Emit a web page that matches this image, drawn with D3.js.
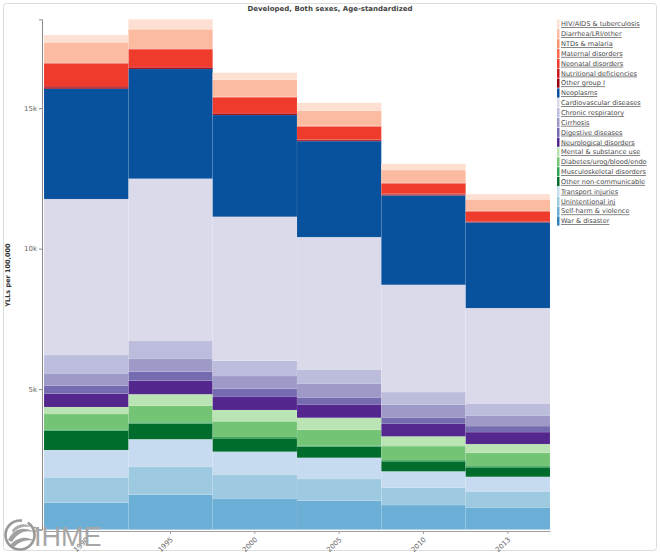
<!DOCTYPE html>
<html>
<head>
<meta charset="utf-8">
<script src="https://cdn.jsdelivr.net/npm/d3@7"></script>
<style>
  body { margin: 0; background: #fff; }
  svg { display: block; font-family: "DejaVu Sans", Verdana, sans-serif; }
</style>
</head>
<body>
<svg id="chart" width="660" height="555"></svg>
<script>
// ---------- DATA ----------
const years = ["1990", "1995", "2000", "2005", "2010", "2013"];
const yTicks = [0, 5000, 10000, 15000];
const yTickLabels = ["0", "5k", "10k", "15k"];

// causes, listed top of legend to bottom (stack order is reversed)
const causeNames = [
  "HIV/AIDS & tuberculosis", "Diarrhea/LRI/other", "NTDs & malaria", "Maternal disorders",
  "Neonatal disorders", "Nutritional deficiencies", "Other group I", "Neoplasms",
  "Cardiovascular diseases", "Chronic respiratory", "Cirrhosis", "Digestive diseases",
  "Neurological disorders", "Mental & substance use", "Diabetes/urog/blood/endo",
  "Musculoskeletal disorders", "Other non-communicable", "Transport injuries",
  "Unintentional inj", "Self-harm & violence", "War & disaster"
];

const hivTb          = [260, 356, 253, 285, 224, 189];
const diarrheaLri    = [712, 676, 595, 534, 452, 406];
const ntdsMalaria    = [10, 10, 8, 8, 7, 6];
const maternal       = [25, 22, 18, 15, 12, 11];
const neonatal       = [809, 634, 561, 461, 373, 350];
const nutritional    = [40, 30, 30, 25, 24, 20];
const otherGroup1    = [56, 41, 41, 36, 33, 26];
const neoplasms      = [3927, 3905, 3621, 3418, 3183, 3051];
const cardiovascular = [5554, 5778, 5126, 4710, 3820, 3393];
const chronicResp    = [651, 641, 545, 498, 452, 427];
const cirrhosis      = [441, 452, 452, 498, 449, 381];
const digestive      = [285, 320, 271, 249, 228, 214];
const neurological   = [473, 484, 488, 477, 449, 427];
const mentalSubst    = [249, 406, 402, 427, 345, 310];
const diabetesEtc    = [545, 591, 559, 555, 498, 473];
const musculo        = [47, 46, 45, 44, 42, 41];
const otherNonComm   = [690, 559, 478, 397, 360, 340];
const transport      = [972, 986, 829, 758, 584, 520];
const unintentional  = [904, 986, 854, 773, 616, 570];
const selfHarm       = [940, 1224, 1071, 1010, 857, 775];
const warDisaster    = [14, 18, 16, 14, 13, 12];

const causeValues = [
  hivTb, diarrheaLri, ntdsMalaria, maternal, neonatal, nutritional, otherGroup1,
  neoplasms, cardiovascular, chronicResp, cirrhosis, digestive, neurological,
  mentalSubst, diabetesEtc, musculo, otherNonComm, transport, unintentional,
  selfHarm, warDisaster
];

const causeColors = [
  "#fee0d2", "#fcbba1", "#fc9272", "#fb6a4a", "#ef3b2c", "#cb181d", "#99000d",
  "#08519c", "#dadaeb", "#bcbddc", "#9e9ac8", "#756bb1", "#54278f",
  "#bae4b3", "#74c476", "#31a354", "#006d2c",
  "#c6dbef", "#9ecae1", "#6baed6", "#3182bd"
];

// ---------- CHART ----------
const svg = d3.select("#chart");

// outer frame
svg.append("rect")
  .attr("x", 3.5).attr("y", 3.5).attr("width", 653).attr("height", 547)
  .attr("rx", 3).attr("fill", "#fff").attr("stroke", "#dcdcdc");

// stacking (bottom = last cause in legend)
const rows = years.map((yr, i) => {
  const o = { year: yr };
  causeNames.forEach((c, k) => { o[c] = causeValues[k][i]; });
  return o;
});
const stackKeys = causeNames.slice().reverse();
const series = d3.stack().keys(stackKeys)(rows);
const maxTotal = d3.max(rows, r => d3.sum(causeNames, c => r[c]));

const x = d3.scaleBand().domain(years).range([44, 550]).padding(0);
const y = d3.scaleLinear().domain([0, maxTotal]).range([529.5, 19.3]);
const color = d3.scaleOrdinal().domain(causeNames).range(causeColors);

const gBars = svg.append("g");
gBars.selectAll("g.layer")
  .data(series)
  .join("g")
  .attr("class", "layer")
  .attr("fill", d => color(d.key))
  .selectAll("rect")
  .data(d => d.map(p => ({ p, key: d.key })))
  .join("rect")
  .attr("x", d => x(d.p.data.year))
  .attr("width", x.bandwidth())
  .attr("y", d => y(d.p[1]))
  .attr("height", d => Math.max(0, y(d.p[0]) - y(d.p[1])))
  .attr("stroke", "#ffffff")
  .attr("stroke-opacity", 0.12)
  .attr("stroke-width", 0.6);

// y axis
const yAxis = d3.axisLeft(y)
  .tickValues(yTicks)
  .tickFormat((d, i) => yTickLabels[i])
  .tickSizeInner(3).tickSizeOuter(3).tickPadding(2);
const gy = svg.append("g").attr("transform", "translate(42,0)").call(yAxis);
gy.select(".domain").attr("stroke", "#8a8a8a");
gy.selectAll(".tick line").attr("stroke", "#8a8a8a");
gy.selectAll(".tick text").attr("fill", "#666").attr("font-size", 7)
  .attr("font-family", "DejaVu Sans, sans-serif");

// x axis
const xAxis = d3.axisBottom(x).tickSizeInner(3).tickSizeOuter(0).tickPadding(2);
const gx = svg.append("g").attr("transform", "translate(0,531)").call(xAxis);
gx.select(".domain").attr("stroke", "#a0a0a0");
gx.selectAll(".tick line").attr("stroke", "#a0a0a0");
gx.selectAll(".tick text")
  .attr("fill", "#666").attr("font-size", 7)
  .attr("font-family", "DejaVu Sans, sans-serif")
  .attr("text-anchor", "end")
  .attr("dy", "0.3em")
  .attr("transform", "translate(-2,4) rotate(-45)");

// title
svg.append("text")
  .attr("x", 330).attr("y", 11)
  .attr("text-anchor", "middle")
  .attr("font-size", 7).attr("font-weight", "bold").attr("fill", "#444")
  .text("Developed, Both sexes, Age-standardized");

// y axis title
svg.append("text")
  .attr("transform", "translate(10,275) rotate(-90)")
  .attr("text-anchor", "middle")
  .attr("font-size", 6.5).attr("font-weight", "bold").attr("fill", "#333")
  .text("YLLs per 100,000");

// legend
const legend = svg.append("g").attr("transform", "translate(557,24)");
const li = legend.selectAll("g").data(causeNames).join("g")
  .attr("transform", (d, i) => `translate(0,${i * 9.85})`);
li.append("rect")
  .attr("x", 0).attr("y", -4.6).attr("width", 2.5).attr("height", 9.2)
  .attr("fill", d => color(d));
li.append("text")
  .attr("x", 4).attr("y", 0).attr("dy", "0.35em")
  .attr("font-size", 6.6).attr("fill", "#4a4a4a")
  .attr("text-decoration", "underline")
  .text(d => d);

// IHME watermark
const logo = svg.append("g");
logo.append("circle").attr("cx", 20).attr("cy", 535).attr("r", 14.5)
  .attr("fill", "none").attr("stroke", "#9a9a9a").attr("stroke-width", 2.6)
  .attr("stroke-dasharray", "70 6 16");
logo.append("path")
  .attr("d", "M8,540 C14,528 24,526 34,532 C26,530 18,532 12,542 Z")
  .attr("fill", "#a0a0a0");
logo.append("path")
  .attr("d", "M10,545 C18,536 28,536 35,541 C27,539 20,541 14,547 Z")
  .attr("fill", "#a0a0a0");
logo.append("path")
  .attr("d", "M12,530 C18,523 26,523 31,527 C24,526 18,527 13,533 Z")
  .attr("fill", "#ababab");
logo.append("text")
  .attr("x", 34).attr("y", 545.5)
  .attr("font-size", 27).attr("font-family", "'Liberation Sans', Arial, sans-serif")
  .attr("font-weight", 400)
  .attr("fill", "#a6a6a6")
  .text("IHME");
</script>
</body>
</html>
